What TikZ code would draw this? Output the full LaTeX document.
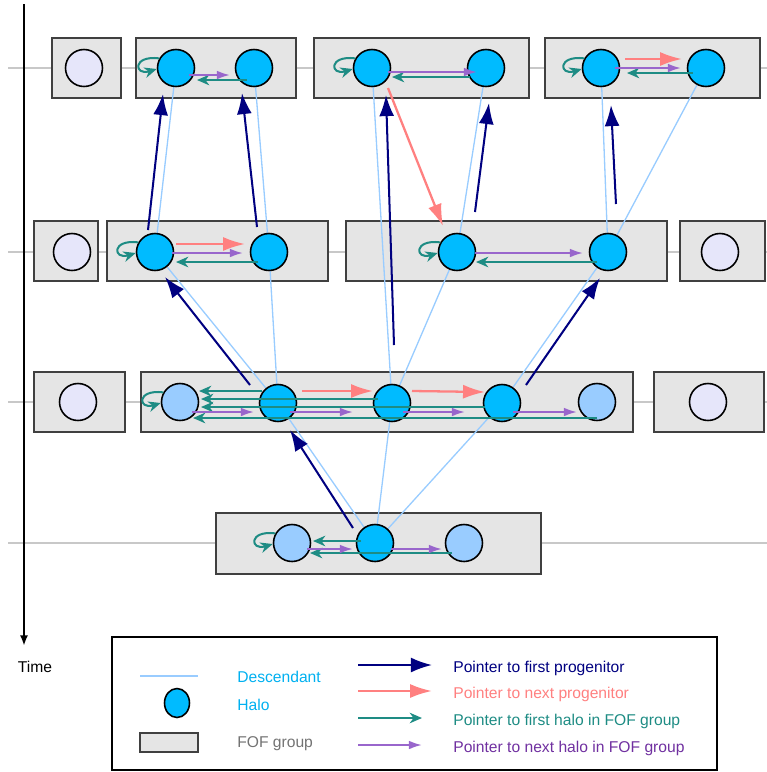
\documentclass[tikz,border=0pt]{standalone}
\usepackage{fontspec}
\setmainfont{Liberation Sans}
\usepackage{tikz}
\usetikzlibrary{arrows.meta}
\usetikzlibrary{calc}
\usetikzlibrary{shapes.geometric}
\definecolor{HaloAzul}{HTML}{00BBFF}
\definecolor{HaloClaro}{HTML}{99CCFF}
\definecolor{HaloSolo}{HTML}{E6E6FA}
\definecolor{GrupoGris}{HTML}{E5E5E5}
\definecolor{FilaGris}{HTML}{C8C8C8}
\definecolor{Marino}{HTML}{000080}
\definecolor{ProgRojo}{HTML}{FF8080}
\definecolor{FofVerde}{HTML}{1E8C84}
\definecolor{FofMorado}{HTML}{9966CC}
\definecolor{TextoMorado}{HTML}{7030A0}
\definecolor{TextoAzul}{HTML}{00B0F0}
\pgfdeclarelayer{grupos}
\pgfdeclarelayer{descendencia}
\pgfsetlayers{grupos,descendencia,main}
\tikzstyle{halo}=[circle,draw=black,line width=0.9pt,fill=HaloAzul,minimum size=0.74cm,inner sep=0pt]
\tikzstyle{halo_claro}=[halo,fill=HaloClaro]
\tikzstyle{halo_solo}=[halo,fill=HaloSolo]
\tikzstyle{grupo}=[draw=black!75,fill=GrupoGris,line width=0.8pt]
\tikzstyle{fila}=[draw=FilaGris,line width=1.1pt]
\tikzstyle{descendiente}=[draw=HaloClaro,line width=0.75pt]
\tikzstyle{primer_progenitor}=[draw=Marino,line width=1.15pt,-{Latex[length=12pt,width=8.5pt]}]
\tikzstyle{siguiente_progenitor}=[draw=ProgRojo,line width=1.3pt,-{Latex[length=12.5pt,width=8pt]}]
\tikzstyle{primer_halo}=[draw=FofVerde,line width=1.15pt,-{Stealth[length=7pt,width=6pt,inset=2.2pt]}]
\tikzstyle{siguiente_halo}=[draw=FofMorado,line width=1.15pt,-{Latex[length=7.5pt,width=5pt]}]
\tikzstyle{leyenda}=[anchor=west,font=\fontsize{8.9}{10}\selectfont,inner sep=0pt]

\begin{document}
\begin{tikzpicture}[x=0.02cm,y=-0.02cm]
		\useasboundingbox (0,0) rectangle (767,772);
		\begin{pgfonlayer}{grupos}
			\path [style=fila] (8,68) -- (767,68);
			\path [style=fila] (8,252) -- (767,252);
			\path [style=fila] (8,402) -- (767,402);
			\path [style=fila] (8,543) -- (767,543);
			\path [style=grupo] (52,38) rectangle (121,98);
			\path [style=grupo] (136,38) rectangle (296,98);
			\path [style=grupo] (314,38) rectangle (529,98);
			\path [style=grupo] (545,38) rectangle (760,98);
			\path [style=grupo] (34,221) rectangle (98,281);
			\path [style=grupo] (107,221) rectangle (328,281);
			\path [style=grupo] (346,221) rectangle (667,281);
			\path [style=grupo] (680,221) rectangle (765,281);
			\path [style=grupo] (34,372) rectangle (125,432);
			\path [style=grupo] (141,372) rectangle (633,432);
			\path [style=grupo] (654,372) rectangle (764,432);
			\path [style=grupo] (216,513) rectangle (541,574);
		\end{pgfonlayer}
		\coordinate (t0) at (24,4);
		\coordinate (t1) at (24,646);
		\path [draw=black,line width=1.2pt,-{Latex[length=6pt,width=4.5pt]}] (t0) -- (t1);
		\node [style=leyenda,anchor=center] (tiempo) at (35,667) {Time};
		\node [style=halo_solo] (A0) at (84,68) {};
		\node [style=halo] (B1) at (176,68) {};
		\node [style=halo] (B2) at (254,68) {};
		\node [style=halo] (C1) at (372,68) {};
		\node [style=halo] (C2) at (486,68) {};
		\node [style=halo] (D1) at (601,68) {};
		\node [style=halo] (D2) at (706,68) {};
		\node [style=halo_solo] (E0) at (72,252) {};
		\node [style=halo] (F1) at (155,252) {};
		\node [style=halo] (F2) at (269,252) {};
		\node [style=halo] (G1) at (457,252) {};
		\node [style=halo] (G2) at (608,252) {};
		\node [style=halo_solo] (H0) at (720,252) {};
		\node [style=halo_solo] (I0) at (78,402) {};
		\node [style=halo_claro] (J1) at (180,402) {};
		\node [style=halo] (J2) at (278,403) {};
		\node [style=halo] (J3) at (392,403) {};
		\node [style=halo] (J4) at (502,403) {};
		\node [style=halo_claro] (J5) at (597,402) {};
		\node [style=halo_solo] (K0) at (708,402) {};
		\node [style=halo_claro] (L1) at (292,543) {};
		\node [style=halo] (L2) at (375,543) {};
		\node [style=halo_claro] (L3) at (464,543) {};
		\begin{pgfonlayer}{descendencia}
			\path [style=descendiente] (B1) -- (F1);
			\path [style=descendiente] (B2) -- (F2);
			\path [style=descendiente] (C1) -- (J3);
			\path [style=descendiente] (C2) -- (G1);
			\path [style=descendiente] (D1) -- (G2);
			\path [style=descendiente] (D2) -- (G2);
			\path [style=descendiente] (F1) -- (J2);
			\path [style=descendiente] (F2) -- (J2);
			\path [style=descendiente] (G1) -- (J3);
			\path [style=descendiente] (G2) -- (J4);
			\path [style=descendiente] (J2) -- (L2);
			\path [style=descendiente] (J3) -- (L2);
			\path [style=descendiente] (J4) -- (L2);
		\end{pgfonlayer}
		\path [style=primer_progenitor] ($(F1)+(-7,-22)$) -- ($(B1)+(-13,26)$);
		\path [style=primer_progenitor] ($(F2)+(-12,-25)$) -- ($(B2)+(-12,25)$);
		\path [style=primer_progenitor] ($(J3)+(2,-58)$) -- ($(C1)+(14,27)$);
		\path [style=primer_progenitor] ($(G1)+(18,-40)$) -- ($(C2)+(3,35)$);
		\path [style=primer_progenitor] ($(G2)+(8,-48)$) -- ($(D1)+(10,37)$);
		\path [style=primer_progenitor] ($(J2)+(-28,-18)$) -- ($(F1)+(10,25)$);
		\path [style=primer_progenitor] ($(J4)+(24,-18)$) -- ($(G2)+(-8,26)$);
		\path [style=primer_progenitor] ($(L2)+(-22,-15)$) -- ($(J2)+(12,27)$);
		\path [style=siguiente_progenitor] ($(F1)+(21,-8)$) -- ($(F2)+(-24,-8)$);
		\path [style=siguiente_progenitor] ($(D1)+(24,-9)$) -- ($(D2)+(-24,-9)$);
		\path [style=siguiente_progenitor] ($(C1)+(16,20)$) -- ($(G1)+(-14,-26)$);
		\path [style=siguiente_progenitor] ($(J2)+(24,-12)$) -- ($(J3)+(-19,-12)$);
		\path [style=siguiente_progenitor] ($(J3)+(20,-12)$) -- ($(J4)+(-17,-11)$);
		\path [style=primer_halo] (B1.150) .. controls ($(B1)+(-44,-13)$) and ($(B1)+(-42,8)$) .. (B1.183);
		\path [style=primer_halo] (C1.150) .. controls ($(C1)+(-44,-13)$) and ($(C1)+(-42,8)$) .. (C1.183);
		\path [style=primer_halo] (D1.150) .. controls ($(D1)+(-44,-13)$) and ($(D1)+(-42,8)$) .. (D1.183);
		\path [style=primer_halo] (F1.150) .. controls ($(F1)+(-44,-13)$) and ($(F1)+(-42,8)$) .. (F1.183);
		\path [style=primer_halo] (G1.150) .. controls ($(G1)+(-44,-13)$) and ($(G1)+(-42,8)$) .. (G1.183);
		\path [style=primer_halo] (J1.150) .. controls ($(J1)+(-44,-13)$) and ($(J1)+(-42,8)$) .. (J1.183);
		\path [style=primer_halo] (L1.150) .. controls ($(L1)+(-44,-13)$) and ($(L1)+(-42,8)$) .. (L1.183);
		\path [style=primer_halo] ($(B2)+(-7,12)$) -- ($(B1)+(21,12)$);
		\path [style=primer_halo] ($(C2)+(-16,9)$) -- ($(C1)+(20,9)$);
		\path [style=primer_halo] ($(D2)+(-13,5)$) -- ($(D1)+(26,5)$);
		\path [style=primer_halo] ($(F2)+(-11,10)$) -- ($(F1)+(21,10)$);
		\path [style=primer_halo] ($(G2)+(-11,10)$) -- ($(G1)+(19,10)$);
		\path [style=primer_halo] ($(J2)+(-16,-12)$) -- ($(J1)+(19,-11)$);
		\path [style=primer_halo] ($(J3)+(-14,-4)$) -- ($(J1)+(21,-3)$);
		\path [style=primer_halo] ($(J4)+(-17,4)$) -- ($(J1)+(21,5)$);
		\path [style=primer_halo] ($(J5)+(0,16)$) -- ($(J1)+(13,16)$);
		\path [style=primer_halo] ($(L2)+(-14,-2)$) -- ($(L1)+(21,-2)$);
		\path [style=primer_halo] ($(L3)+(-12,10)$) -- ($(L1)+(18,10)$);
		\path [style=siguiente_halo] ($(B1)+(13,7)$) -- ($(B2)+(-24,7)$);
		\path [style=siguiente_halo] ($(C1)+(16,4)$) -- ($(C2)+(-9,4)$);
		\path [style=siguiente_halo] ($(D1)+(14,0)$) -- ($(D2)+(-25,0)$);
		\path [style=siguiente_halo] ($(F1)+(17,1)$) -- ($(F2)+(-26,1)$);
		\path [style=siguiente_halo] ($(G1)+(18,1)$) -- ($(G2)+(-25,1)$);
		\path [style=siguiente_halo] ($(J1)+(12,10)$) -- ($(J2)+(-24,9)$);
		\path [style=siguiente_halo] ($(J2)+(12,9)$) -- ($(J3)+(-39,9)$);
		\path [style=siguiente_halo] ($(J3)+(11,9)$) -- ($(J4)+(-37,9)$);
		\path [style=siguiente_halo] ($(J4)+(11,9)$) -- ($(J5)+(-20,10)$);
		\path [style=siguiente_halo] ($(L1)+(15,6)$) -- ($(L2)+(-22,6)$);
		\path [style=siguiente_halo] ($(L2)+(16,6)$) -- ($(L3)+(-22,6)$);
		% leyenda
		\path [draw=black,line width=0.9pt] (112,637) rectangle (717,770);
		\coordinate (ld0) at (140,676);
		\coordinate (ld1) at (198,676);
		\path [style=descendiente] (ld0) -- (ld1);
		\node [style=leyenda,text=TextoAzul] (descendant) at (237,677) {Descendant};
		\node [style=halo,ellipse,minimum width=0.5cm,minimum height=0.58cm] (lhalo) at (177,703) {};
		\node [style=leyenda,text=TextoAzul] (halotxt) at (237,705) {Halo};
		\path [style=grupo] (140,733) rectangle (198,752);
		\node [style=leyenda,text=black!55] (foftxt) at (237,744) {FOF group};
		\coordinate (pp0) at (358,665);
		\coordinate (pp1) at (432,665);
		\coordinate (sp0) at (358,691);
		\coordinate (sp1) at (432,691);
		\coordinate (ph0) at (358,718);
		\coordinate (ph1) at (422,718);
		\coordinate (sh0) at (358,745);
		\coordinate (sh1) at (422,745);
		\path [style=primer_progenitor] (pp0) -- (pp1);
		\path [style=siguiente_progenitor] (sp0) -- (sp1);
		\path [style=primer_halo] (ph0) -- (ph1);
		\path [style=siguiente_halo] (sh0) -- (sh1);
		\node [style=leyenda,text=Marino] (pptxt) at (453,668) {Pointer to first progenitor};
		\node [style=leyenda,text=ProgRojo] (sptxt) at (453,694) {Pointer to next progenitor};
		\node [style=leyenda,text=FofVerde] (phtxt) at (453,721) {Pointer to first halo in FOF group};
		\node [style=leyenda,text=TextoMorado] (shtxt) at (453,748) {Pointer to next halo in FOF group};
\end{tikzpicture}
\end{document}
